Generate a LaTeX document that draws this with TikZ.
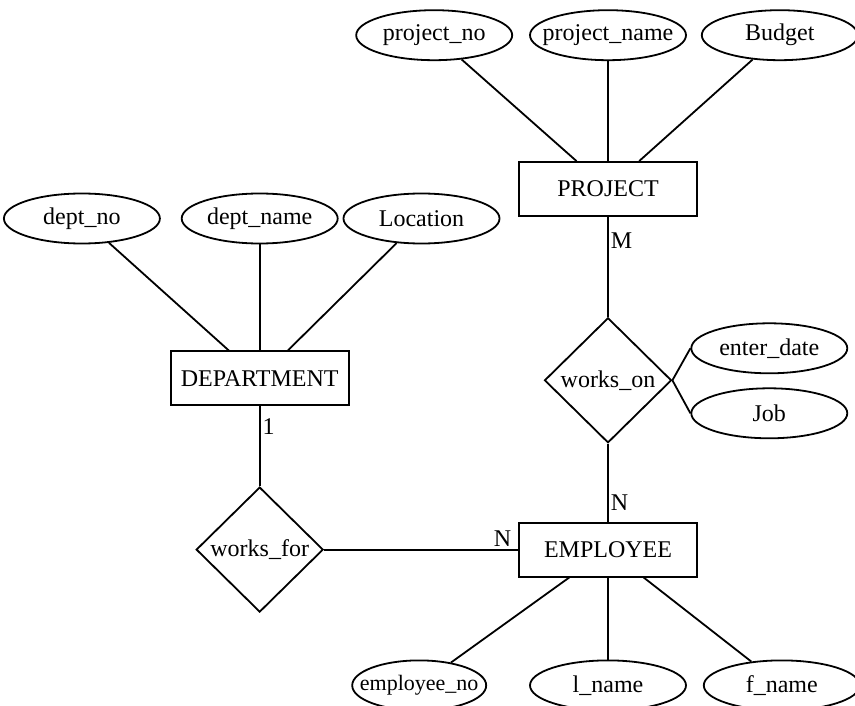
\documentclass[tikz,border=0pt]{standalone}
\usepackage{fontspec}
\setmainfont{Liberation Serif}
\usetikzlibrary{positioning}
\usetikzlibrary{graphs}
\usetikzlibrary{shapes.geometric}
\tikzset{
  entity/.style={draw, rectangle, inner sep=0pt, minimum width=178pt, minimum height=54pt},
  attrib/.style={draw, ellipse, inner xsep=-30pt, inner ysep=0pt, minimum width=156pt, minimum height=50pt},
  relship/.style={draw, diamond, inner sep=0pt, minimum width=127pt, minimum height=125pt},
  card/.style={inner sep=2pt},
}

\begin{document}
\begin{tikzpicture}[x=1pt, y=-1pt, line width=1.8pt, font=\fontsize{24}{28}\selectfont]
            \useasboundingbox (0,0) rectangle (855,706);
            \node[entity] (proj) at (608,189)        {PROJECT};
            \node[attrib] (pname) [above=100pt of proj] {project\_name};
            \node[attrib] (pno) [left=16pt of pname]    {project\_no};
            \node[attrib] (budget) [right=14pt of pname] {Budget};

            \node[relship] (workson) [below=100pt of proj] {works\_on};
            \node[attrib] (edate) [right=18pt of workson, yshift=32pt]  {enter\_date};
            \node[attrib] (job) [right=18pt of workson, yshift=-33pt]   {Job};

            \node[entity] (emp) [below=78pt of workson]   {EMPLOYEE};
            \node[attrib] (lname) [below=82pt of emp]     {l\_name};
            \node[attrib, minimum width=134pt, font=\fontsize{22}{26}\selectfont] (eno) [left=42pt of lname] {employee\_no};
            \node[attrib] (fname) [right=16pt of lname]   {f\_name};

            \node[relship] (worksfor) [left=194pt of emp] {works\_for};
            \node[entity] (dept) [above=80pt of worksfor] {DEPARTMENT};
            \node[attrib] (dname) [above=106pt of dept]   {dept\_name};
            \node[attrib] (dno) [left=20pt of dname]      {dept\_no};
            \node[attrib] (loc) [right=4pt of dname]      {Location};

            \graph{
                (proj) -- {(pno), (pname), (budget)};
                (dept) -- {(dno), (dname), (loc)};
                (emp) -- {(eno), (lname), (fname)};
                (proj) -- [edge node={node[card, pos=0.24, right] {M}}] (workson) -- [edge node={node[card, pos=0.75, right] {N}}] (emp);
                (dept) -- [edge node={node[card, pos=0.25, right] {1}}] (worksfor) -- [edge node={node[card, pos=0.92, above] {N}}] (emp);
            };
            \draw (workson.east) -- (edate.west);
            \draw (workson.east) -- (job.west);
        \end{tikzpicture}
\end{document}
